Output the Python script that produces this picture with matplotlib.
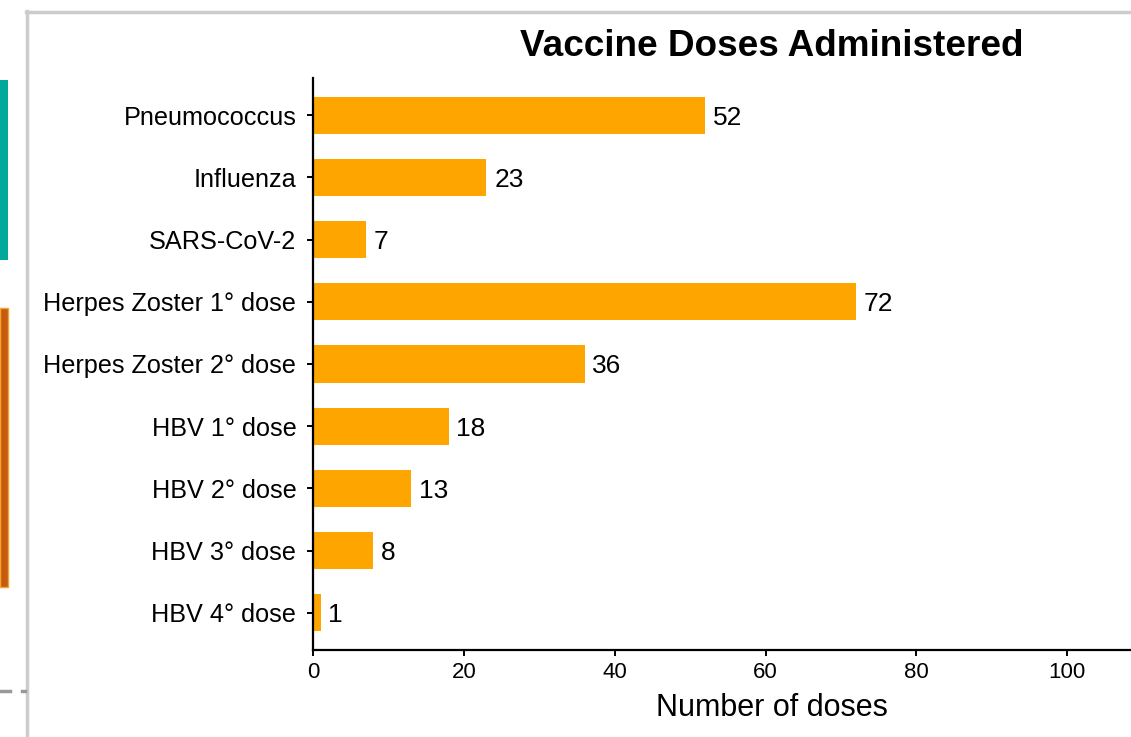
import numpy as np
import matplotlib
matplotlib.use("Agg")
import matplotlib.pyplot as plt
from matplotlib.patches import Rectangle
from matplotlib.lines import Line2D

# data, top to bottom as in the chart
vaccines = [
    "Pneumococcus",
    "Influenza",
    "SARS-CoV-2",
    "Herpes Zoster 1° dose",
    "Herpes Zoster 2° dose",
    "HBV 1° dose",
    "HBV 2° dose",
    "HBV 3° dose",
    "HBV 4° dose",
]
doses = [52, 23, 7, 72, 36, 18, 13, 8, 1]
x_ticks = [0, 20, 40, 60, 80, 100]

W, H = 1131, 737
BAR_COLOR = "#FFA500"

plt.rcParams["font.family"] = ["Liberation Sans", "DejaVu Sans"]


def fx(x):
    return x / W


def fy(y):
    return 1 - y / H


def main():
    fig = plt.figure(figsize=(W / 100, H / 100), dpi=100)
    fig.patch.set_facecolor("white")

    # decorations from the surrounding slide
    fig.add_artist(Rectangle((fx(0), fy(260)), fx(8), 180 / H, transform=fig.transFigure,
                             facecolor="#00A99A", edgecolor="none"))
    fig.add_artist(Rectangle((fx(0), fy(587)), fx(8), 279 / H, transform=fig.transFigure,
                             facecolor="#C55A11", edgecolor="#F7A22A", linewidth=1))
    fig.add_artist(Line2D([fx(27), fx(27)], [fy(11), fy(737)], transform=fig.transFigure,
                          color="#CCCCCC", linewidth=2.5))
    fig.add_artist(Line2D([fx(26), fx(1131)], [fy(12), fy(12)], transform=fig.transFigure,
                          color="#CCCCCC", linewidth=2.5))
    fig.add_artist(Line2D([fx(0), fx(10)], [fy(691), fy(691)], transform=fig.transFigure,
                          color="#999999", linewidth=2.5))
    fig.add_artist(Line2D([fx(22), fx(25)], [fy(691), fy(691)], transform=fig.transFigure,
                          color="#999999", linewidth=2.5))

    # panel runs past the right edge of the screenshot
    ax = fig.add_axes([fx(313), fy(650), fx(1231 - 313), (650 - 78) / H])
    y = np.arange(len(vaccines))
    ax.barh(y, doses, height=0.6, color=BAR_COLOR)
    for yi, v in zip(y, doses):
        ax.annotate(str(v), (v, yi), xytext=(5.5, 0), textcoords="offset points",
                    ha="left", va="center_baseline", fontsize=19, color="black")

    ax.set_yticks(y)
    ax.set_yticklabels(vaccines, fontsize=18.2)
    ax.set_ylim(len(vaccines) - 0.4, -0.6)
    ax.set_xlim(0, 121.7)
    ax.set_xticks(x_ticks)
    ax.set_xticklabels([str(t) for t in x_ticks], fontsize=16,
                       family=["Liberation Sans Narrow", "Liberation Sans"])
    ax.set_xlabel("Number of doses", fontsize=22, labelpad=7)

    for side in ("top", "right"):
        ax.spines[side].set_visible(False)
    for side in ("left", "bottom"):
        ax.spines[side].set_linewidth(1.6)
    ax.tick_params(axis="both", length=4, width=1.4, color="black")
    ax.tick_params(axis="y", pad=8)
    ax.tick_params(axis="x", pad=5)
    for lbl in ax.get_yticklabels():
        lbl.set_va("center_baseline")

    fig.text(fx(772), fy(46), "Vaccine Doses Administered", ha="center", va="center",
             fontsize=26.6, fontweight="bold")

    fig.savefig("out.png", dpi=100)
    plt.close(fig)


if __name__ == "__main__":
    main()
